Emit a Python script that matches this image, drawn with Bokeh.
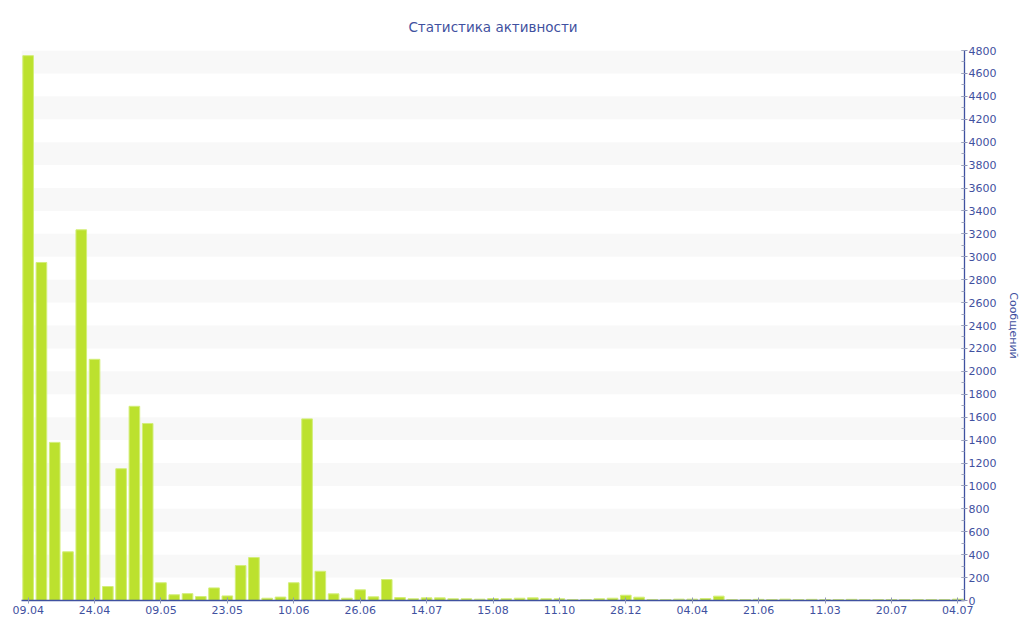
from bokeh.plotting import figure
from bokeh.models import FixedTicker, BoxAnnotation, Range1d, ColumnDataSource
from bokeh.embed import file_html
from bokeh.resources import INLINE

# --- data ---
values = [4755, 2950, 1380, 425, 3235, 2105, 122, 1150, 1695, 1545,
          155, 50, 60, 35, 110, 40, 305, 375, 20, 30,
          155, 1585, 255, 58, 20, 93, 32, 183, 26, 15,
          23, 23, 15, 15, 12, 17, 15, 20, 23, 15,
          15, 9, 9, 15, 20, 46, 29, 9, 9, 12,
          12, 17, 38, 8, 8, 10, 8, 12, 8, 10,
          8, 8, 10, 8, 8, 8, 8, 8, 8, 8, 12]
tick_labels = ["09.04", "24.04", "09.05", "23.05", "10.06", "26.06", "14.07",
               "15.08", "11.10", "28.12", "04.04", "21.06", "11.03", "20.07", "04.07"]
label_step = 5
y_ticks = list(range(0, 4801, 200))

TITLE = "Статистика активности"
Y_LABEL = "Сообщений"
FONT = "DejaVu Sans"
TEXT_COLOR = "#3f51a0"

n = len(values)
xs = list(range(n))
src = ColumnDataSource(dict(x=xs, top=values))

p = figure(width=1024, height=640, output_backend="svg", toolbar_location=None,
           x_range=Range1d(-0.5, n - 0.5), y_range=Range1d(0, 4800),
           y_axis_location="right", title=TITLE,
           min_border_left=21, min_border_right=60, min_border_top=50,
           min_border_bottom=40)
p.outline_line_color = None
p.background_fill_color = "white"

# alternating bands
for lo in y_ticks[1::2]:
    if lo + 200 <= 4800:
        p.add_layout(BoxAnnotation(bottom=lo, top=lo + 200, fill_color="#f8f8f8",
                                   fill_alpha=1, line_color=None, level="underlay"))

p.vbar(x="x", top="top", width=0.8, bottom=0, source=src,
       fill_color="#bce12e", line_color="#d3ee7a", line_width=1)

p.xgrid.grid_line_color = None
p.ygrid.grid_line_color = None

# title
p.title.text_font = FONT
p.title.text_font_size = "13.5px"
p.title.text_font_style = "normal"
p.title.text_color = TEXT_COLOR
p.title.align = "center"
p.title.standoff = 32

# x axis
xa = p.xaxis[0]
tick_pos = xs[::label_step]
xa.ticker = FixedTicker(ticks=tick_pos, minor_ticks=[])
xa.major_label_overrides = {t: lab for t, lab in zip(tick_pos, tick_labels)}
xa.axis_line_color = TEXT_COLOR
xa.axis_line_width = 1.3
xa.major_tick_line_color = "#9098b8"
xa.major_tick_in = 3
xa.major_tick_out = 3
xa.minor_tick_line_color = None
xa.major_label_text_font = FONT
xa.major_label_text_font_size = "11px"
xa.major_label_text_color = TEXT_COLOR
xa.major_label_standoff = 2

# y axis
ya = p.yaxis[0]
ya.ticker = FixedTicker(ticks=y_ticks, minor_ticks=list(range(0, 4801, 100)))
ya.axis_line_color = TEXT_COLOR
ya.axis_line_width = 1.3
ya.major_tick_line_color = "#8a93b8"
ya.major_tick_in = 3
ya.major_tick_out = 3
ya.minor_tick_line_color = "#a0a6bf"
ya.minor_tick_in = 3
ya.minor_tick_out = 0
ya.major_label_text_font = FONT
ya.major_label_text_font_size = "11px"
ya.major_label_text_color = TEXT_COLOR
ya.major_label_standoff = 1
ya.axis_label = Y_LABEL
ya.axis_label_text_font = FONT
ya.axis_label_text_font_size = "11px"
ya.axis_label_text_font_style = "normal"
ya.axis_label_text_color = TEXT_COLOR
ya.axis_label_standoff = 8

open("out.html", "w").write(file_html(p, INLINE))
